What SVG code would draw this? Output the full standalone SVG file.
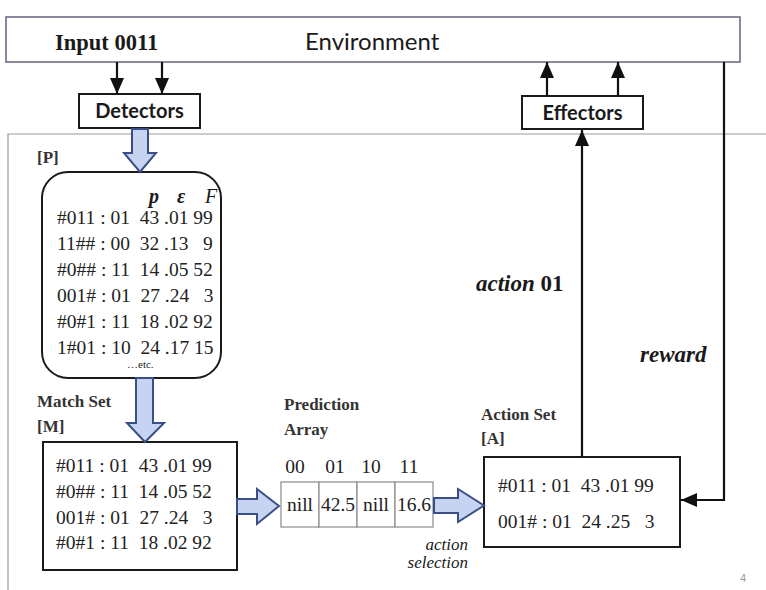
<svg xmlns="http://www.w3.org/2000/svg" width="766" height="590" viewBox="0 0 766 590">
<defs>
<marker id="ah" viewBox="0 0 16 14" refX="16" refY="7" markerWidth="16" markerHeight="14" markerUnits="userSpaceOnUse" orient="auto">
<path d="M0,0 L16,7 L0,14 Z" fill="#111"/>
</marker>
<style>
.serif{font-family:"Liberation Serif","Times New Roman",serif;fill:#1a1a1a}
.sans{font-family:Lato,"Open Sans","Liberation Sans",sans-serif;fill:#1a1a1a}
.lbl{font-family:"Liberation Serif",serif;font-weight:bold;font-size:17px;fill:#333}
.row{font-family:"Liberation Serif",serif;font-size:19.5px;fill:#222}
.box{fill:#fff;stroke:#1a1a1a;stroke-width:2}
.line{fill:none;stroke:#111;stroke-width:2.2}
.block{fill:#c6d4f2;stroke:#3a4f86;stroke-width:2;stroke-linejoin:miter}
.cell{fill:#fff;stroke:#8a8a8a;stroke-width:1.2}
</style>
</defs>
<rect width="766" height="590" fill="#fff"/>
<g id="frame">
<path d="M8,590 V134 H766" fill="none" stroke="#9a9a9a" stroke-width="1.2"/>
</g>
<g id="environment">
<rect x="6" y="17" width="734" height="45" fill="#fff" stroke="#6b6f88" stroke-width="1.6"/>
<text class="serif" x="55" y="50" font-size="22.5" font-weight="bold">Input 0011</text>
<text class="sans" x="305" y="50" font-size="24">Environment</text>
</g>
<g id="detectors">
<rect class="box" x="79" y="94" width="121" height="34"/>
<text class="sans" x="139.5" y="118" font-size="20" font-weight="bold" text-anchor="middle">Detectors</text>
</g>
<g id="effectors">
<rect class="box" x="522" y="96" width="121" height="33"/>
<text class="sans" x="582.5" y="120" font-size="20" font-weight="bold" text-anchor="middle">Effectors</text>
</g>
<g id="population">
<text class="lbl" x="37" y="163">[P]</text>
<rect class="box" x="42" y="172" width="179" height="206" rx="26" ry="26"/>
<text class="serif" x="149" y="203" font-size="20" font-weight="bold" font-style="italic">p</text>
<text class="serif" x="177" y="203" font-size="20" font-weight="bold" font-style="italic">ε</text>
<text class="serif" x="205" y="203" font-size="20" font-style="italic">F</text>
<text class="row" x="57" y="224" xml:space="preserve">#011 : 01  43 .01 99</text>
<text class="row" x="57" y="250" xml:space="preserve">11## : 00  32 .13   9</text>
<text class="row" x="57" y="276" xml:space="preserve">#0## : 11  14 .05 52</text>
<text class="row" x="57" y="302" xml:space="preserve">001# : 01  27 .24   3</text>
<text class="row" x="57" y="328" xml:space="preserve">#0#1 : 11  18 .02 92</text>
<text class="row" x="57" y="354" xml:space="preserve">1#01 : 10  24 .17 15</text>
<text class="serif" x="127" y="368" font-size="11">…etc.</text>
</g>
<g id="matchset">
<text class="lbl" x="37" y="407">Match Set</text>
<text class="lbl" x="37" y="432">[M]</text>
<rect class="box" x="43" y="442" width="194" height="128"/>
<text class="row" x="56" y="472" font-size="21" xml:space="preserve">#011 : 01  43 .01 99</text>
<text class="row" x="56" y="498" font-size="21" xml:space="preserve">#0## : 11  14 .05 52</text>
<text class="row" x="56" y="524" font-size="21" xml:space="preserve">001# : 01  27 .24   3</text>
<text class="row" x="56" y="549" font-size="21" xml:space="preserve">#0#1 : 11  18 .02 92</text>
</g>
<g id="predictionarray">
<text class="lbl" x="284" y="410">Prediction</text>
<text class="lbl" x="284" y="435">Array</text>
<text class="row" x="295" y="473" text-anchor="middle">00</text>
<text class="row" x="335" y="473" text-anchor="middle">01</text>
<text class="row" x="371" y="473" text-anchor="middle">10</text>
<text class="row" x="409" y="473" text-anchor="middle">11</text>
<rect class="cell" x="281" y="482" width="38" height="45"/>
<rect class="cell" x="319" y="482" width="38" height="45"/>
<rect class="cell" x="357" y="482" width="38" height="45"/>
<rect class="cell" x="395" y="482" width="38" height="45"/>
<text class="row" x="300" y="511" font-size="17.5" text-anchor="middle">nill</text>
<text class="row" x="338" y="511" font-size="17.5" text-anchor="middle">42.5</text>
<text class="row" x="376" y="511" font-size="17.5" text-anchor="middle">nill</text>
<text class="row" x="414" y="511" font-size="17.5" text-anchor="middle">16.6</text>
<text class="serif" x="468" y="550" font-size="17" font-style="italic" text-anchor="end" fill="#444">action</text>
<text class="serif" x="468" y="568" font-size="17" font-style="italic" text-anchor="end" fill="#444">selection</text>
</g>
<g id="actionset">
<text class="lbl" x="481" y="420">Action Set</text>
<text class="lbl" x="481" y="444">[A]</text>
<rect class="box" x="484" y="457" width="196" height="90"/>
<text class="row" x="498" y="492" font-size="20.5" xml:space="preserve">#011 : 01  43 .01 99</text>
<text class="row" x="498" y="528" font-size="20.5" xml:space="preserve">001# : 01  24 .25   3</text>
</g>
<g id="connectors">
<line class="line" x1="117" y1="62" x2="117" y2="94" marker-end="url(#ah)"/>
<line class="line" x1="162" y1="62" x2="162" y2="94" marker-end="url(#ah)"/>
<line class="line" x1="547" y1="96" x2="547" y2="62" marker-end="url(#ah)"/>
<line class="line" x1="618" y1="96" x2="618" y2="62" marker-end="url(#ah)"/>
<line class="line" x1="582" y1="457" x2="582" y2="130" marker-end="url(#ah)"/>
<path class="line" d="M724,62 V500 H681" marker-end="url(#ah)"/>
<path class="block" d="M132,129 H148 V153 H156 L140,172 L124,153 H132 Z"/>
<path class="block" d="M136,378 H153 V423 H164 L145,442 L127,423 H136 Z"/>
<path class="block" d="M237,499 H257 V489 L279,506 L257,524 V514 H237 Z"/>
<path class="block" d="M434,498 H458 V489 L484,505.5 L458,522 V513 H434 Z"/>
<text class="serif" x="476" y="291" font-size="23" font-weight="bold"><tspan font-style="italic">action</tspan> 01</text>
<text class="serif" x="640" y="362" font-size="23" font-weight="bold" font-style="italic">reward</text>
</g>
<text x="740" y="582" font-family="Liberation Sans,sans-serif" font-size="11" fill="#999">4</text>
</svg>
